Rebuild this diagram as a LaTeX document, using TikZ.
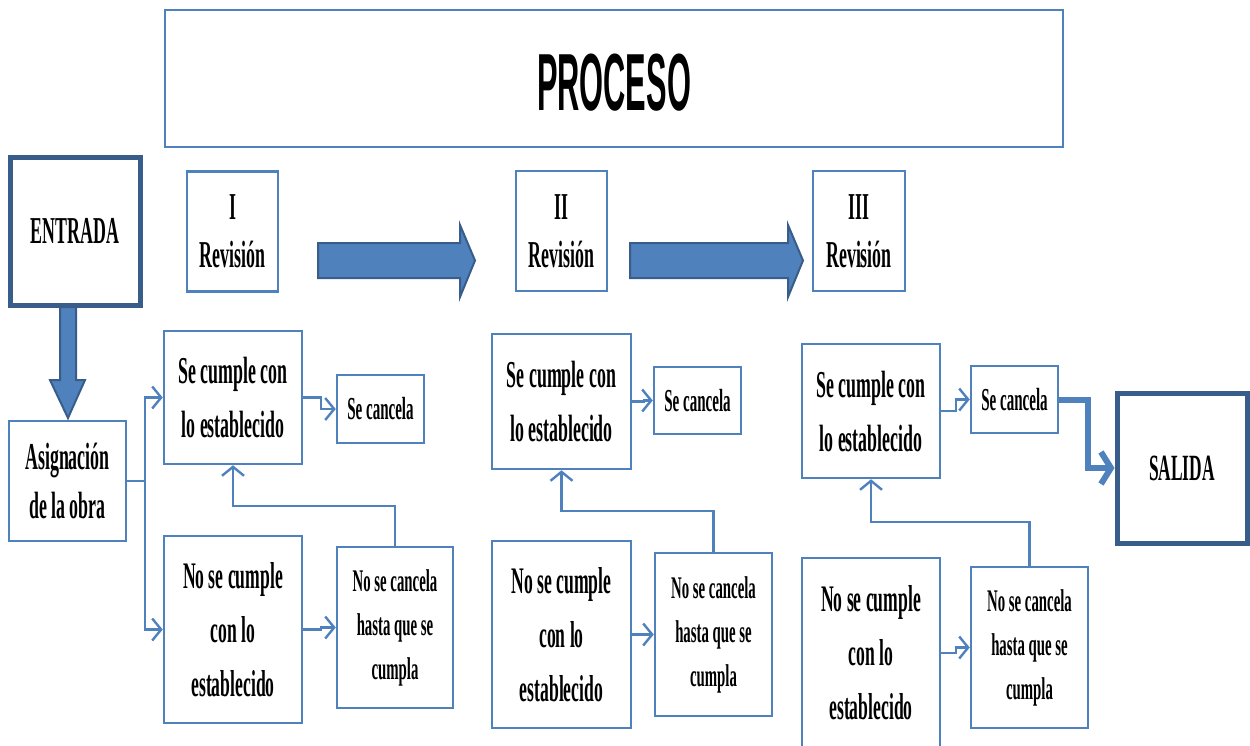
\documentclass[tikz,border=0pt]{standalone}
\usepackage{fontspec}
\newfontfamily\condserif{Liberation Serif}[FakeStretch=0.47]
\newfontfamily\condsans{Liberation Sans}[FakeStretch=0.38]
\usetikzlibrary{arrows.meta}
\definecolor{boxblue}{HTML}{4F81BD}
\definecolor{darkblue}{HTML}{385D8A}
\tikzstyle{box}=[rectangle, draw=boxblue, line width=2.5pt, inner sep=0pt, align=center, font=\condserif\bfseries\fontsize{38}{54}\selectfont]
\tikzstyle{heavybox}=[box, draw=darkblue, line width=5pt]
\tikzstyle{link}=[draw=boxblue, line width=2.4pt, -{Straight Barb[length=9pt,width=22pt]}]
\tikzstyle{heavylink}=[draw=boxblue, line width=6pt, -{Straight Barb[length=10pt,width=32pt]}]
\tikzstyle{blockarrow}=[fill=boxblue, draw=darkblue, line width=2pt]
\tikzstyle{cancel}=[box, font=\condserif\bfseries\fontsize{32}{40}\selectfont]
\tikzstyle{nobox}=[box, font=\condserif\bfseries\fontsize{37.5}{54}\selectfont]
\tikzstyle{nocancel}=[box, font=\condserif\bfseries\fontsize{31.5}{44}\selectfont]
\tikzstyle{revbox}=[box, minimum height=120pt, font=\condserif\bfseries\fontsize{38}{48}\selectfont]
\begin{document}
\begin{tikzpicture}[x=1pt, y=-1pt]
  \useasboundingbox (0,0) rectangle (1250,745);
  \clip (0,0) rectangle (1250,745);

  % title and end boxes
  \node[box, minimum width=898pt, minimum height=137pt, text height=63pt, text depth=0pt,
        font=\condsans\bfseries\fontsize{81}{90}\selectfont] (proceso) at (614,78.5) {PROCESO};
  \node[heavybox, minimum width=130pt, minimum height=148pt] (entrada) at (75,231) {ENTRADA};
  \node[heavybox, minimum width=130pt, minimum height=150pt,
        font=\condserif\bfseries\fontsize{37}{45}\selectfont] (salida) at (1182,468) {SALIDA};
  \node[box, minimum width=117pt, minimum height=120pt,
        font=\condserif\bfseries\fontsize{38}{49}\selectfont] (asig) at (67.5,481) {Asignación\\de la obra};

  % revision headers
  \node[revbox, minimum width=91pt] (rev1) at (232.5,231.5) {I\\Revisión};
  \node[revbox, minimum width=91pt] (rev2) at (561.5,231) {II\\Revisión};
  \node[revbox, minimum width=92pt] (rev3) at (859,231) {III\\Revisión};

  % first revision
  \node[box, minimum width=138pt, minimum height=133pt] (si1) at (233,397.5) {Se cumple con\\lo establecido};
  \node[cancel, minimum width=87pt, minimum height=68pt] (can1) at (380.5,409) {Se cancela};
  \node[nobox, minimum width=138pt, minimum height=187pt] (no1) at (233,629.5) {No se cumple\\con lo\\establecido};
  \node[nocancel, minimum width=116pt, minimum height=161pt] (nocan1) at (395,627.5) {No se cancela\\hasta que se\\cumpla};

  % second revision
  \node[box, minimum width=139pt, minimum height=135pt] (si2) at (561.5,401.5) {Se cumple con\\lo establecido};
  \node[cancel, minimum width=87pt, minimum height=67pt] (can2) at (697.5,400.5) {Se cancela};
  \node[nobox, minimum width=139pt, minimum height=187pt] (no2) at (561.5,634.5) {No se cumple\\con lo\\establecido};
  \node[nocancel, minimum width=117pt, minimum height=163pt] (nocan2) at (713.5,634.5) {No se cancela\\hasta que se\\cumpla};

  % third revision
  \node[box, minimum width=138pt, minimum height=134pt] (si3) at (871,411) {Se cumple con\\lo establecido};
  \node[cancel, minimum width=87pt, minimum height=67pt] (can3) at (1014.5,399.5) {Se cancela};
  \node[nobox, minimum width=138pt, minimum height=190pt] (no3) at (871,653) {No se cumple\\con lo\\establecido};
  \node[nocancel, minimum width=117pt, minimum height=161pt] (nocan3) at (1029.5,647.5) {No se cancela\\hasta que se\\cumpla};

  % block arrows
  \draw[blockarrow] (60,307) -- (60,380) -- (50,380) -- (68,418) -- (85,380) -- (76,380) -- (76,307) -- cycle;
  \draw[blockarrow] (318,243) -- (460,243) -- (460,225) -- (475,260.5) -- (460,297) -- (460,278) -- (318,278) -- cycle;
  \draw[blockarrow] (630,243) -- (788,243) -- (788,225) -- (803,260.5) -- (788,297) -- (788,278) -- (630,278) -- cycle;

  % connectors
  \draw[link] (asig.east) -- ++(18,0) |- (si1.west);
  \draw[link] (asig.east) -- ++(18,0) |- (no1.west);
  \draw[link] (si1.east) -- ++(18,0) |- (can1.west);
  \draw[link] (no1.east) -- ++(18,0) |- (nocan1.west);
  \draw[link] (nocan1.north) -- ++(0,-40) -| (si1.south);

  \draw[link] (si2.east) -- ++(12,0) |- (can2.west);
  \draw[link] (no2.east) -- (nocan2.west);
  \draw[link] (nocan2.north) -- ++(0,-41) -| (si2.south);

  \draw[link] (si3.east) -- ++(15,0) |- (can3.west);
  \draw[link] (no3.east) -- ++(15,0) |- (nocan3.west);
  \draw[link] (nocan3.north) -- ++(0,-44) -| (si3.south);
  \draw[heavylink] (can3.east) -- ++(29,0) |- (salida.west);
\end{tikzpicture}
\end{document}
